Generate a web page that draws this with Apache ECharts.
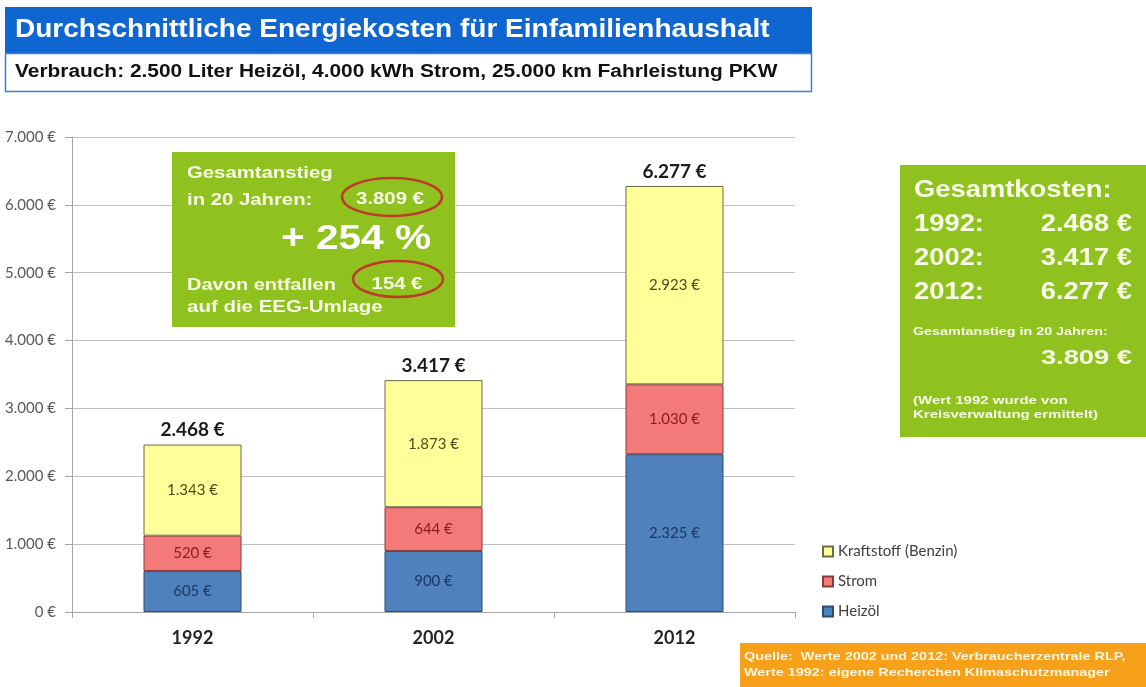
<!DOCTYPE html>
<html lang="de">
<head>
<meta charset="utf-8" />
<title>Energiekosten</title>
<style>
  html, body { margin: 0; padding: 0; background: #fff; }
  #main { width: 1146px; height: 687px; }
</style>
</head>
<body>
<div id="main"></div>
<script src="https://cdn.jsdelivr.net/npm/echarts@6/dist/echarts.min.js"></script>
<script>
const years = ['1992', '2002', '2012'];
const heizoel = [605, 900, 2325];
const strom = [520, 644, 1030];
const kraftstoff = [1343, 1873, 2923];
const totals = [2468, 3417, 6277];
const yTicks = [0, 1000, 2000, 3000, 4000, 5000, 6000, 7000];

// deutsche Schreibweise: 2.468 €
function euro(v) {
  return String(v).replace(/\B(?=(\d{3})+(?!\d))/g, '.') + ' €';
}

const green = '#8fc21f';
const greenText = '#f8fbe6';
const sans = '"Liberation Sans", Arial, sans-serif';
const chartFont = 'Lato, "Open Sans", sans-serif';

// Text im Bild ist etwas in die Breite gezogen -> scaleX
function txt(x, y, text, size, opts) {
  opts = opts || {};
  return {
    type: 'text', x: x, y: y, z: 10,
    scaleX: opts.sx || 1,
    style: {
      text: text,
      font: (opts.weight || 'bold') + ' ' + size + 'px ' + (opts.family || sans),
      fill: opts.fill || greenText,
      textAlign: opts.align || 'left',
      textVerticalAlign: 'middle'
    }
  };
}

const myChart = echarts.init(document.getElementById('main'));

const option = {
  animation: false,
  backgroundColor: '#fff',
  grid: { left: 72, right: 351, top: 137, bottom: 75 },
  legend: {
    data: ['Kraftstoff (Benzin)', 'Strom', 'Heizöl'],
    orient: 'vertical',
    left: 822, top: 544, padding: 0,
    itemWidth: 10, itemHeight: 10, itemGap: 15,
    icon: 'rect',
    textStyle: { fontFamily: chartFont, fontSize: 15, color: '#404040' }
  },
  xAxis: {
    type: 'category',
    data: years,
    axisLine: { lineStyle: { color: '#a6a6a6' } },
    axisTick: { show: true, length: 6, lineStyle: { color: '#a6a6a6' } },
    axisLabel: { margin: 17, fontFamily: chartFont, fontWeight: 'bold', fontSize: 18, color: '#262626' }
  },
  yAxis: {
    type: 'value',
    min: 0, max: 7000, interval: 1000,
    axisLine: { show: true, lineStyle: { color: '#a6a6a6' } },
    axisTick: { show: true, length: 7, lineStyle: { color: '#a6a6a6' } },
    axisLabel: {
      margin: 16, fontFamily: chartFont, fontSize: 15, color: '#595959',
      formatter: v => yTicks.indexOf(v) >= 0 ? euro(v) : ''
    },
    splitLine: { lineStyle: { color: '#bfbfbf' } }
  },
  series: [
    {
      name: 'Heizöl', type: 'bar', stack: 'k', barWidth: 98,
      data: heizoel,
      itemStyle: { color: '#4f81bd', borderColor: '#2c4d75', borderWidth: 1 },
      label: { show: true, position: 'inside', formatter: p => euro(p.value),
        fontFamily: chartFont, fontSize: 15, color: '#1f3864' }
    },
    {
      name: 'Strom', type: 'bar', stack: 'k', barWidth: 98,
      data: strom,
      itemStyle: { color: '#f47a7a', borderColor: '#8c3b3b', borderWidth: 1 },
      label: { show: true, position: 'inside', formatter: p => euro(p.value),
        fontFamily: chartFont, fontSize: 15, color: '#8b1c1c' }
    },
    {
      name: 'Kraftstoff (Benzin)', type: 'bar', stack: 'k', barWidth: 98,
      data: kraftstoff,
      itemStyle: { color: '#ffff99', borderColor: '#6b6b4a', borderWidth: 1 },
      label: { show: true, position: 'inside', formatter: p => euro(p.value),
        fontFamily: chartFont, fontSize: 15, color: '#4d4d1a' }
    },
    {
      name: 'Gesamt', type: 'bar', barWidth: 98, barGap: '-100%',
      data: totals, silent: true, z: 1,
      itemStyle: { color: 'rgba(0,0,0,0)' },
      label: { show: true, position: 'top', distance: 5, formatter: p => euro(p.value),
        fontFamily: chartFont, fontWeight: 'bold', fontSize: 19, color: '#1a1a1a' }
    }
  ],
  graphic: [
    // Titel
    { type: 'rect', shape: { x: 5, y: 7, width: 807, height: 46 }, style: { fill: '#0f66d0' } },
    txt(15, 30, 'Durchschnittliche Energiekosten für Einfamilienhaushalt', 25, { fill: '#ffffff', sx: 1.12 }),
    { type: 'rect', shape: { x: 5.5, y: 53.5, width: 806, height: 38 },
      style: { fill: '#ffffff', stroke: '#3d7fd6', lineWidth: 1.5 } },
    txt(15, 72, 'Verbrauch: 2.500 Liter Heizöl, 4.000 kWh Strom, 25.000 km Fahrleistung PKW', 18, { fill: '#111111', sx: 1.16 }),

    // Kasten Gesamtanstieg
    { type: 'rect', shape: { x: 172, y: 152, width: 283, height: 175 }, style: { fill: green }, z: 5 },
    txt(187, 174, 'Gesamtanstieg', 16, { sx: 1.27 }),
    txt(187, 201, 'in 20 Jahren:', 16, { sx: 1.27 }),
    txt(390, 200, '3.809 €', 16, { align: 'center', sx: 1.27 }),
    { type: 'ellipse', shape: { cx: 392, cy: 197, rx: 50, ry: 19 },
      style: { fill: null, stroke: '#c0392b', lineWidth: 2.5 }, z: 11 },
    txt(431, 239, '+ 254 %', 35, { align: 'right', fill: '#ffffff', sx: 1.16 }),
    txt(187, 286, 'Davon entfallen', 16, { sx: 1.25 }),
    txt(397, 285, '154 €', 16, { align: 'center', sx: 1.27 }),
    { type: 'ellipse', shape: { cx: 398, cy: 279, rx: 45, ry: 18 },
      style: { fill: null, stroke: '#c0392b', lineWidth: 2.5 }, z: 11 },
    txt(187, 308, 'auf die EEG-Umlage', 16, { sx: 1.28 }),

    // Kasten Gesamtkosten
    { type: 'rect', shape: { x: 900, y: 165, width: 246, height: 272 }, style: { fill: green }, z: 5 },
    txt(914, 190, 'Gesamtkosten:', 24, { sx: 1.14 }),
    txt(914, 224, '1992:', 24, { sx: 1.14 }), txt(1132, 224, euro(totals[0]), 24, { align: 'right', sx: 1.14 }),
    txt(914, 258, '2002:', 24, { sx: 1.14 }), txt(1132, 258, euro(totals[1]), 24, { align: 'right', sx: 1.14 }),
    txt(914, 292, '2012:', 24, { sx: 1.14 }), txt(1132, 292, euro(totals[2]), 24, { align: 'right', sx: 1.14 }),
    txt(913, 332, 'Gesamtanstieg in 20 Jahren:', 11, { sx: 1.3 }),
    txt(1132, 358, '3.809 €', 21, { align: 'right', sx: 1.3 }),
    txt(913, 401, '(Wert 1992 wurde von', 10, { sx: 1.5 }),
    txt(913, 415, 'Kreisverwaltung ermittelt)', 10, { sx: 1.5 }),

    // Quelle
    { type: 'rect', shape: { x: 740, y: 643, width: 406, height: 44 }, style: { fill: '#f7a11a' } },
    txt(744, 657, 'Quelle:  Werte 2002 und 2012: Verbraucherzentrale RLP,', 11, { fill: '#fff6e0', sx: 1.31 }),
    txt(744, 673, 'Werte 1992: eigene Recherchen Klimaschutzmanager', 11, { fill: '#fff6e0', sx: 1.31 })
  ]
};

myChart.setOption(option);
</script>
</body>
</html>
